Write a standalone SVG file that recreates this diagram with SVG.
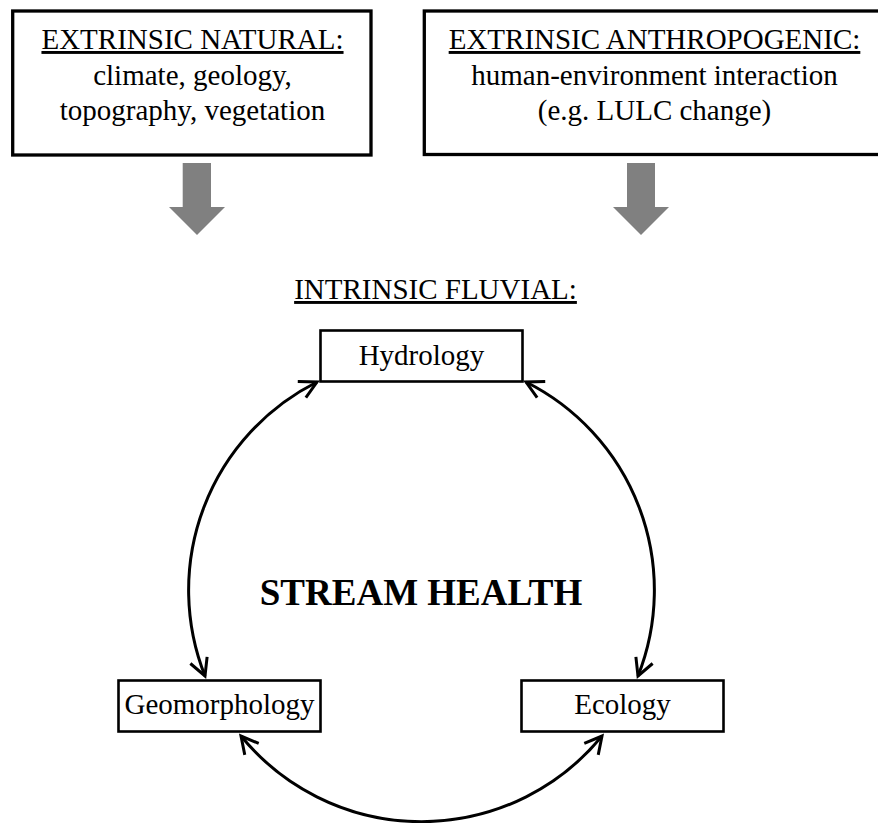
<svg xmlns="http://www.w3.org/2000/svg" width="878" height="823" viewBox="0 0 878 823">
  <style>
    .t { font-family: "Liberation Serif", "Times New Roman", serif; font-size: 29px; fill: #000; text-anchor: middle; }
    .u { text-decoration: underline; }
    .big { font-family: "Liberation Serif", "Times New Roman", serif; font-size: 37px; font-weight: bold; fill: #000; text-anchor: middle; }
    .topbox { fill: #fff; stroke: #000; stroke-width: 3.3; }
    .box { fill: #fff; stroke: #000; stroke-width: 2.6; }
    .arc { fill: none; stroke: #000; stroke-width: 3; marker-start: url(#vh); marker-end: url(#vh); }
    .gray { fill: #808080; }
  </style>
  <defs>
    <marker id="vh" markerUnits="userSpaceOnUse" viewBox="-22 -14 26 28" refX="0" refY="0" markerWidth="26" markerHeight="28" orient="auto-start-reverse">
      <path d="M -17 -9 L 0 0 L -17 9" fill="none" stroke="#000" stroke-width="3"/>
    </marker>
  </defs>
  <rect width="878" height="823" fill="#fff"/>

  <g id="node-extrinsic-natural">
    <rect class="topbox" x="12.7" y="11" width="358.3" height="144"/>
    <text class="t u" x="192.5" y="49">EXTRINSIC NATURAL:</text>
    <text class="t" x="192.5" y="85">climate, geology,</text>
    <text class="t" x="192.5" y="120">topography, vegetation</text>
  </g>

  <g id="node-extrinsic-anthropogenic">
    <rect class="topbox" x="424.3" y="11" width="462" height="143.5"/>
    <text class="t u" x="654.5" y="49">EXTRINSIC ANTHROPOGENIC:</text>
    <text class="t" x="654.5" y="85">human-environment interaction</text>
    <text class="t" x="654.5" y="120">(e.g. LULC change)</text>
  </g>

  <g id="label-intrinsic-fluvial">
    <text class="t u" x="435.5" y="299">INTRINSIC FLUVIAL:</text>
  </g>

  <g id="node-hydrology">
    <rect class="box" x="320.5" y="330.5" width="202" height="51"/>
    <text class="t" x="421.5" y="365">Hydrology</text>
  </g>

  <g id="node-geomorphology">
    <rect class="box" x="118.5" y="680.5" width="202" height="51"/>
    <text class="t" x="219.5" y="714">Geomorphology</text>
  </g>

  <g id="node-ecology">
    <rect class="box" x="521.5" y="680.5" width="202" height="51"/>
    <text class="t" x="622.5" y="714">Ecology</text>
  </g>

  <g id="label-stream-health">
    <text class="big" x="421" y="605">STREAM HEALTH</text>
  </g>

  <g id="connectors">
    <polygon class="gray" points="182.7,163 211,163 211,207 225,207 197,235 169,207 182.7,207"/>
    <polygon class="gray" points="627,163 655,163 655,207 669,207 641,235 613,207 627,207"/>
    <path class="arc" d="M 317 382 A 233 233 0 0 0 205 676"/>
    <path class="arc" d="M 526 382 A 233 233 0 0 1 638 676"/>
    <path class="arc" d="M 241 736 A 233 233 0 0 0 602 736"/>
  </g>
</svg>
